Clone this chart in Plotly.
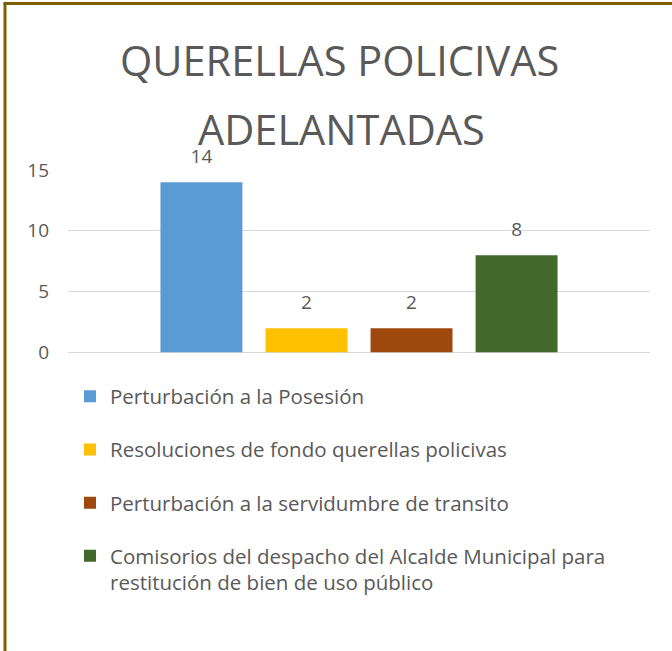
import plotly.graph_objects as go

W, H = 672, 651

category = ["Querellas policivas"]
series_names = [
    "Perturbación a la Posesión",
    "Resoluciones de fondo querellas policivas",
    "Perturbación a la servidumbre de transito",
    "Comisorios del despacho del Alcalde Municipal para<br>restitución de bien de uso público",
]
series_values = [14, 2, 2, 8]
series_colors = ["#5B9BD5", "#FFC000", "#9E480E", "#43682B"]
y_ticks = [0, 5, 10, 15]
title_lines = ["QUERELLAS POLICIVAS", "ADELANTADAS"]

FONT = "Open Sans, Lato, DejaVu Sans, sans-serif"
TXT = "#595959"

fig = go.Figure()
for i, (name, val, col) in enumerate(zip(series_names, series_values, series_colors)):
    fig.add_trace(go.Bar(
        x=category, y=[val], name=name, marker_color=col,
        marker_line_width=0, offsetgroup=str(i), alignmentgroup="a",
        legendgroup=f"g{i}", hoverinfo="skip",
    ))
for i, val in enumerate(series_values):
    fig.add_trace(go.Scatter(
        x=category, y=[val], mode="markers+text", text=[str(val)],
        textposition="top center", marker=dict(size=22, opacity=0),
        textfont=dict(family=FONT, size=19, color=TXT),
        offsetgroup=str(i), alignmentgroup="a", showlegend=False,
        cliponaxis=False, hoverinfo="skip",
    ))

fig.update_layout(
    width=W, height=H,
    margin=dict(l=0, r=0, t=0, b=0, autoexpand=False),
    paper_bgcolor="white", plot_bgcolor="white",
    barmode="group", bargap=0.278, bargroupgap=0.22,
    scattermode="group",
    font=dict(family=FONT, color=TXT),
    showlegend=True,
    legend=dict(
        x=70 / W, y=1 - 376.5 / H, xanchor="left", yanchor="top",
        orientation="v", traceorder="grouped", tracegroupgap=23.5,
        valign="top", itemwidth=30,
        font=dict(family=FONT, size=20.5, color=TXT),
        bgcolor="rgba(0,0,0,0)",
    ),
    xaxis=dict(domain=[68 / W, 650 / W], showticklabels=False, showgrid=False,
               zeroline=False, showline=False, ticks=""),
    yaxis=dict(domain=[1 - 352.5 / H, 1 - 170 / H], range=[0, 15],
               tickvals=y_ticks, showgrid=True, gridcolor="#D9D9D9", gridwidth=1,
               zeroline=True, zerolinecolor="#D9D9D9", zerolinewidth=1,
               showline=False, ticks="", ticklabelstandoff=18,
               tickfont=dict(family=FONT, size=19, color=TXT)),
    annotations=[
        dict(text=title_lines[0], x=339 / W, y=1 - 60.3 / H, xref="paper", yref="paper",
             xanchor="center", yanchor="middle", showarrow=False,
             font=dict(family=FONT, size=41.5, color=TXT)),
        dict(text=title_lines[1], x=341 / W, y=1 - 128.5 / H, xref="paper", yref="paper",
             xanchor="center", yanchor="middle", showarrow=False,
             font=dict(family=FONT, size=41.5, color=TXT)),
    ],
    shapes=[
        dict(type="line", xref="paper", yref="paper", x0=5 / W, x1=5 / W, y0=0, y1=1 - 3 / H,
             line=dict(color="#7F6000", width=3)),
        dict(type="line", xref="paper", yref="paper", x0=3.5 / W, x1=1, y0=1 - 3.5 / H, y1=1 - 3.5 / H,
             line=dict(color="#7F6000", width=3)),
    ],
)

fig.write_html("out.html", config={"displayModeBar": False},
               post_script="document.body.style.margin='0';")
